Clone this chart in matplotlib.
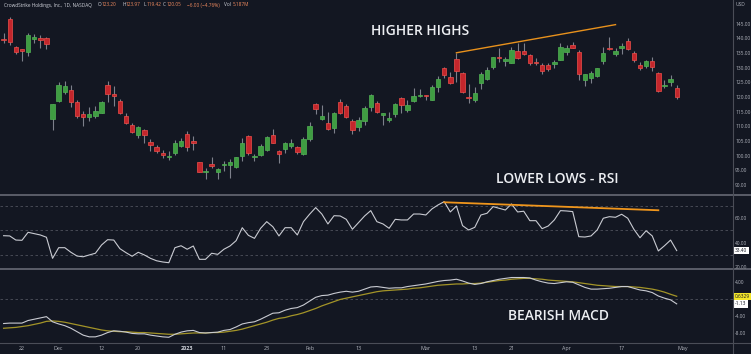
import numpy as np
import pandas as pd
import matplotlib
matplotlib.use("Agg")
import matplotlib.pyplot as plt
from matplotlib.lines import Line2D

W, H = 751, 354

# trading days shown (Nov 17 2022 .. Apr 28 2023)
holidays = ['2022-11-24', '2022-12-26', '2023-01-02', '2023-01-16', '2023-02-20', '2023-04-07']
dates = pd.bdate_range('2022-11-17', '2023-04-28')
dates = dates[~dates.isin(pd.to_datetime(holidays))]

opens = [139.7, 146.6, 137.0, 135.9, 135.5, 139.9, 139.8, 140.0, 112.4, 118.8,
         121.8, 122.4, 118.2, 114.3, 113.3, 113.6, 114.7, 124.0, 120.8, 118.8,
         113.6, 110.6, 107.0, 108.8, 104.7, 103.0, 101.0, 99.5, 101.0, 103.4,
         107.3, 104.7, 97.8, 94.3, 96.9, 94.5, 96.8, 96.8, 96.2, 100.0,
         106.7, 99.6, 100.1, 102.0, 107.1, 101.6, 102.4, 103.4, 102.9, 100.7,
         105.6, 117.5, 112.4, 111.3, 109.6, 118.2, 116.9, 111.8, 109.9, 111.8,
         116.5, 117.9, 114.0, 112.3, 114.2, 119.6, 115.6, 118.6, 120.3, 120.4,
         119.0, 123.3, 129.9, 126.9, 132.9, 128.1, 119.9, 119.0, 124.7, 126.3,
         130.1, 133.5, 132.4, 131.7, 135.7, 135.8, 134.4, 131.8, 130.9, 130.9,
         131.3, 132.6, 135.5, 137.6, 135.5, 125.8, 126.6, 127.3, 132.4, 136.5,
         134.6, 136.6, 139.1, 135.1, 130.9, 130.6, 132.4, 128.3, 123.8, 125.2,
         123.20]
highs = [141.8, 147.2, 137.4, 136.4, 141.7, 141.6, 141.1, 140.6, 117.8, 125.0,
         125.5, 124.1, 119.0, 115.2, 116.6, 116.9, 118.6, 125.6, 123.8, 119.3,
         114.4, 111.0, 110.2, 109.2, 105.6, 103.5, 101.9, 101.7, 105.3, 105.9,
         108.4, 106.7, 98.0, 95.9, 99.7, 95.9, 98.3, 98.8, 99.7, 105.9,
         107.2, 100.5, 103.9, 106.7, 109.1, 101.9, 104.7, 105.7, 103.3, 106.3,
         111.4, 117.9, 117.3, 115.0, 115.0, 119.2, 117.5, 112.4, 113.3, 116.8,
         120.9, 118.6, 114.4, 114.8, 118.1, 120.1, 119.0, 123.0, 122.6, 120.7,
         124.0, 127.2, 130.3, 128.5, 135.1, 128.5, 124.4, 123.5, 128.5, 130.3,
         133.8, 136.6, 133.7, 137.0, 138.3, 138.5, 134.8, 133.4, 131.5, 131.5,
         132.6, 138.3, 137.7, 138.8, 135.9, 128.0, 128.9, 130.0, 137.2, 140.4,
         136.6, 138.3, 140.0, 135.8, 131.8, 132.7, 133.8, 128.5, 125.8, 127.5,
         123.97]
lows = [138.3, 137.7, 134.6, 132.4, 134.0, 138.5, 136.8, 136.3, 108.8, 118.4,
        120.9, 116.7, 113.0, 110.2, 111.9, 112.7, 114.4, 118.4, 116.9, 114.2,
        110.7, 107.6, 105.9, 104.4, 101.7, 101.0, 99.1, 98.5, 100.2, 102.9,
        101.6, 101.9, 94.4, 92.0, 95.9, 92.0, 94.8, 92.5, 95.7, 98.1,
        100.2, 98.1, 99.9, 101.6, 104.2, 97.4, 100.9, 102.5, 100.5, 100.4,
        105.1, 114.1, 112.2, 108.8, 107.8, 114.1, 112.7, 107.4, 108.5, 110.5,
        115.2, 114.5, 110.5, 111.6, 113.3, 114.6, 115.0, 118.4, 119.9, 119.0,
        118.9, 121.7, 126.4, 124.4, 125.2, 121.3, 118.1, 118.3, 122.8, 125.8,
        129.5, 132.0, 130.6, 131.5, 133.0, 134.3, 130.9, 130.9, 127.9, 128.8,
        129.8, 132.5, 134.3, 136.6, 125.8, 123.8, 124.7, 127.0, 131.3, 136.0,
        134.0, 134.7, 136.0, 132.0, 129.2, 130.0, 129.0, 121.6, 123.2, 123.8,
        119.42]
closes = [139.5, 138.9, 135.5, 135.8, 141.1, 140.1, 139.6, 138.1, 117.6, 124.1,
          123.9, 118.2, 113.6, 113.1, 114.2, 115.1, 118.4, 121.0, 120.5, 114.6,
          111.2, 108.0, 109.7, 107.0, 103.6, 101.7, 100.2, 100.0, 104.4, 105.1,
          103.1, 104.4, 94.5, 94.6, 96.6, 95.6, 97.1, 97.8, 99.5, 104.2,
          100.8, 99.8, 103.4, 106.3, 104.4, 100.6, 104.3, 104.3, 101.2, 105.7,
          110.2, 115.8, 113.4, 109.2, 114.5, 114.5, 113.2, 108.8, 112.2, 116.4,
          120.6, 114.9, 114.2, 112.5, 117.5, 117.3, 117.3, 120.5, 120.4, 120.2,
          123.5, 126.0, 127.5, 124.9, 129.0, 121.7, 119.7, 121.3, 127.9, 129.2,
          133.5, 133.2, 132.6, 136.0, 133.3, 134.7, 131.5, 131.6, 128.9, 129.6,
          131.8, 137.2, 136.6, 136.9, 127.8, 127.8, 128.1, 129.8, 135.1, 136.3,
          135.8, 137.4, 136.3, 132.6, 129.8, 132.3, 130.3, 122.2, 123.9, 126.05,
          120.05]

rsi = [45.7, 45.5, 42.1, 41.9, 48.5, 47.4, 46.3, 44.4, 27.0, 35.8,
       35.8, 32.0, 28.9, 28.3, 29.8, 31.2, 38.0, 42.4, 42.1, 35.0,
       31.7, 28.7, 32.0, 29.8, 27.0, 25.0, 24.0, 23.4, 35.8, 37.4,
       34.5, 37.2, 26.2, 26.2, 31.2, 30.3, 34.5, 37.2, 41.6, 52.3,
       46.0, 43.5, 51.8, 57.3, 53.1, 45.5, 52.3, 52.3, 46.3, 57.3,
       63.4, 68.9, 63.6, 55.4, 62.2, 62.0, 59.2, 51.0, 56.5, 62.0,
       66.4, 57.3, 55.4, 51.8, 59.2, 58.7, 58.7, 63.6, 63.6, 62.8,
       67.8, 71.1, 73.8, 65.3, 70.2, 54.0, 50.4, 52.6, 62.8, 64.2,
       69.7, 68.3, 66.9, 71.9, 65.3, 65.9, 58.1, 58.1, 51.5, 53.7,
       58.7, 66.4, 66.1, 65.6, 44.9, 44.6, 45.5, 50.4, 60.1, 61.4,
       60.9, 63.4, 60.1, 51.0, 44.0, 49.8, 45.5, 33.1, 37.4, 42.1,
       33.4]

macd = [-5.7, -5.6, -5.6, -5.6, -5.0, -4.7, -4.4, -4.1, -5.3, -5.8,
        -6.2, -6.8, -7.6, -8.4, -8.8, -8.8, -8.4, -7.8, -7.4, -7.5,
        -7.7, -8.0, -8.1, -8.1, -8.4, -8.6, -8.8, -8.9, -8.2, -7.7,
        -7.4, -7.3, -7.8, -7.9, -7.8, -7.7, -7.3, -7.1, -6.5, -5.8,
        -5.5, -5.3, -4.7, -4.0, -3.3, -3.2, -2.6, -2.2, -2.0, -1.4,
        -0.5, 0.4, 0.8, 0.9, 1.3, 1.6, 1.8, 1.6, 1.8, 2.3,
        2.8, 2.9, 2.7, 2.5, 2.6, 2.6, 2.9, 3.1, 3.3, 3.5,
        3.8, 4.1, 4.3, 4.4, 4.6, 4.2, 3.7, 3.4, 3.6, 4.0,
        4.3, 4.6, 4.8, 5.0, 5.0, 5.0, 4.9, 4.4, 4.0, 3.7,
        3.6, 3.8, 4.0, 3.9, 3.3, 2.7, 2.3, 2.3, 2.4, 2.5,
        2.7, 2.9, 2.9, 2.5, 2.1, 1.9, 1.5, 0.7, 0.2, -0.2,
        -1.13]
signal = [-6.8, -6.7, -6.6, -6.4, -6.2, -5.9, -5.6, -5.2, -5.1, -5.2,
          -5.4, -5.7, -6.0, -6.3, -6.6, -6.9, -7.2, -7.4, -7.5, -7.6,
          -7.6, -7.7, -7.8, -7.8, -7.9, -8.0, -8.1, -8.2, -8.2, -8.1,
          -8.0, -7.9, -7.9, -7.9, -7.8, -7.8, -7.7, -7.5, -7.3, -7.0,
          -6.6, -6.2, -5.8, -5.4, -4.9, -4.5, -4.3, -3.9, -3.6, -3.2,
          -2.7, -2.2, -1.6, -1.1, -0.6, -0.1, 0.2, 0.5, 0.8, 1.1,
          1.4, 1.7, 1.9, 2.0, 2.1, 2.2, 2.3, 2.5, 2.6, 2.8,
          3.0, 3.2, 3.3, 3.4, 3.5, 3.5, 3.6, 3.6, 3.7, 3.9,
          4.1, 4.3, 4.4, 4.6, 4.7, 4.8, 4.8, 4.7, 4.6, 4.4,
          4.3, 4.2, 4.1, 4.0, 3.8, 3.6, 3.4, 3.2, 3.1, 3.0,
          2.9, 2.9, 2.9, 2.8, 2.7, 2.5, 2.3, 2.0, 1.6, 1.1,
          0.6329]

# drawn trend lines (date, value)
price_trend = [('2023-03-08', 135.1), ('2023-04-14', 144.7)]
rsi_trend = [('2023-03-06', 73.3), ('2023-04-25', 66.7)]

tick_dates = ['2022-11-22', '2022-12-01', '2022-12-12', '2022-12-20', '2023-01-03', '2023-01-11',
              '2023-01-23', '2023-02-01', '2023-02-13', '2023-03-01', '2023-03-13', '2023-03-21',
              '2023-04-03', '2023-04-17', '2023-05-01']
tick_labels = ['22', 'Dec', '12', '20', '2023', '11', '23', 'Feb', '13', 'Mar', '13', '21', 'Apr', '17', 'May']

price_ticks = [90, 95, 100, 105, 110, 115, 120, 125, 130, 135, 140, 145]
rsi_ticks = [20, 40, 60]
macd_ticks = [-8, -4, 4]

BG = '#131722'
GRID = '#4e515c'
TXT = '#b2b5be'
GREEN, GREEN_E = '#3f9d42', '#52b355'
RED, RED_E = '#c4262c', '#ee4f4a'
WICK = '#7d808b'
ORANGE = '#e8911c'
SCALE_FS = 3.5

plt.rcParams['font.family'] = ['Open Sans', 'DejaVu Sans']


def idx(d):
    return int(np.searchsorted(dates, pd.Timestamp(d)))


def fx(px):
    return px / W


def fy(py):
    return 1 - py / H


fig = plt.figure(figsize=(W / 100, H / 100), dpi=100, facecolor=BG)
ax_p = fig.add_axes([0, fy(195), fx(733), 195 / H])
ax_r = fig.add_axes([0, fy(269), fx(733), 74 / H], sharex=ax_p)
ax_m = fig.add_axes([0, fy(343), fx(733), 74 / H], sharex=ax_p)

for ax in (ax_p, ax_r, ax_m):
    ax.set_facecolor(BG)
    for s in ax.spines.values():
        s.set_visible(False)
    ax.yaxis.tick_right()
    ax.tick_params(axis='y', length=0, pad=1.5, labelsize=SCALE_FS, labelcolor=TXT)
    ax.tick_params(axis='x', length=0, labelbottom=False)

x = np.arange(len(dates))
o = np.array(opens)
c = np.array(closes)
up = c >= o
lo = np.minimum(o, c)
hgt = np.maximum(np.abs(c - o), 0.45)

# price candles
ax_p.vlines(x, lows, highs, color=WICK, lw=0.8, zorder=2)
ax_p.bar(x[up], hgt[up], bottom=lo[up], width=0.72, color=GREEN, edgecolor=GREEN_E, lw=0.5, zorder=3)
ax_p.bar(x[~up], hgt[~up], bottom=lo[~up], width=0.72, color=RED, edgecolor=RED_E, lw=0.5, zorder=3)
ax_p.plot([idx(d) for d, v in price_trend], [v for d, v in price_trend], color=ORANGE, lw=1.0, zorder=4)
ax_p.set_xlim(-0.59, 119.2)
ax_p.set_ylim(86.6, 153.1)
ax_p.set_yticks(price_ticks)
ax_p.set_yticklabels([f'{v:.2f}' for v in price_ticks])

# RSI
for lvl in (70, 50, 30):
    ax_r.axhline(lvl, color=GRID, lw=0.6, ls=(0, (3, 3)))
ax_r.plot(x, rsi, color='#c9cbd2', lw=0.8, zorder=3)
ax_r.plot([idx(d) for d, v in rsi_trend], [v for d, v in rsi_trend], color='#f0961c', lw=1.3, zorder=4)
ax_r.set_ylim(18.2, 79.3)
ax_r.set_yticks(rsi_ticks)
ax_r.set_yticklabels([f'{v:.2f}' for v in rsi_ticks])

# MACD
ax_m.axhline(0, color=GRID, lw=0.6, ls=(0, (3, 3)))
ax_m.plot(x, signal, color='#a39428', lw=0.9, zorder=3)
ax_m.plot(x, macd, color='#c9cbd2', lw=0.8, zorder=4)
ax_m.set_ylim(-10.23, 6.98)
ax_m.set_yticks(macd_ticks)
ax_m.set_yticklabels([f'{v:.2f}' for v in macd_ticks])

ax_m.set_xticks([idx(d) for d in tick_dates])
ax_m.set_xticklabels(tick_labels)
ax_m.tick_params(axis='x', labelbottom=True, labelsize=3.9, labelcolor=TXT, pad=2)
for lab in ax_m.get_xticklabels():
    if lab.get_text() == '2023':
        lab.set_fontweight('bold')
        lab.set_color('#d1d4dc')

# panel separators
for py in (195, 269):
    fig.add_artist(Line2D([0, 1], [fy(py), fy(py)], transform=fig.transFigure, color='#6e717b', lw=1.1))
fig.add_artist(Line2D([0, 1], [fy(343), fy(343)], transform=fig.transFigure, color='#4a4d57', lw=0.8))
fig.add_artist(Line2D([fx(733), fx(733)], [0, 1], transform=fig.transFigure, color='#4a4d57', lw=0.8))

# value boxes on the scale
box_kw = dict(fontsize=SCALE_FS, ha='left', va='center', color='#131722')
ax_r.annotate(f'{rsi[-1]:.2f}', xy=(1, rsi[-1]), xycoords=('axes fraction', 'data'), xytext=(1.5, 0),
              textcoords='offset points',
              bbox=dict(boxstyle='square,pad=0.25', fc='#ffffff', ec='none'), **box_kw)
ax_m.annotate(f'{signal[-1]:.4f}', xy=(1, signal[-1]), xycoords=('axes fraction', 'data'), xytext=(1.5, 0),
              textcoords='offset points',
              bbox=dict(boxstyle='square,pad=0.25', fc='#f5e72a', ec='none'), **box_kw)
ax_m.annotate(f'{macd[-1]:.2f}', xy=(1, macd[-1]), xycoords=('axes fraction', 'data'), xytext=(1.5, 0),
              textcoords='offset points',
              bbox=dict(boxstyle='square,pad=0.25', fc='#ffffff', ec='none'), **box_kw)

fig.text(fx(736), fy(4), 'USD', fontsize=SCALE_FS, color=TXT, ha='left', va='center')

# header
hdr_y = fy(5)
HFS = 3.4
fig.text(fx(4), hdr_y, 'CrowdStrike Holdings, Inc., 1D, NASDAQ', fontsize=HFS, color='#d1d4dc', va='center')
VAL = '#ef8a5f'
for lx, letter, vx, val in [(98, 'O', 102, '123.20'), (122, 'H', 126, '123.97'),
                            (143, 'L', 146.5, '119.42'), (163, 'C', 167, '120.05'),
                            (224, 'Vol', 233, '5.187M')]:
    fig.text(fx(lx), hdr_y, letter, fontsize=HFS, color='#d1d4dc', va='center')
    fig.text(fx(vx), hdr_y, val, fontsize=HFS, color=VAL, va='center')
fig.text(fx(187), hdr_y, '\u22126.00 (\u22124.76%)', fontsize=HFS, color=VAL, va='center')

# chart notes
note_kw = dict(fontsize=10, color='#eceef2', ha='center', va='center', fontweight='semibold')
fig.text(fx(420), fy(31), 'HIGHER HIGHS', **note_kw)
fig.text(fx(557), fy(179), 'LOWER LOWS - RSI', **note_kw)
fig.text(fx(558), fy(316), 'BEARISH MACD', **note_kw)

fig.savefig('out.png', dpi=100, facecolor=BG)
